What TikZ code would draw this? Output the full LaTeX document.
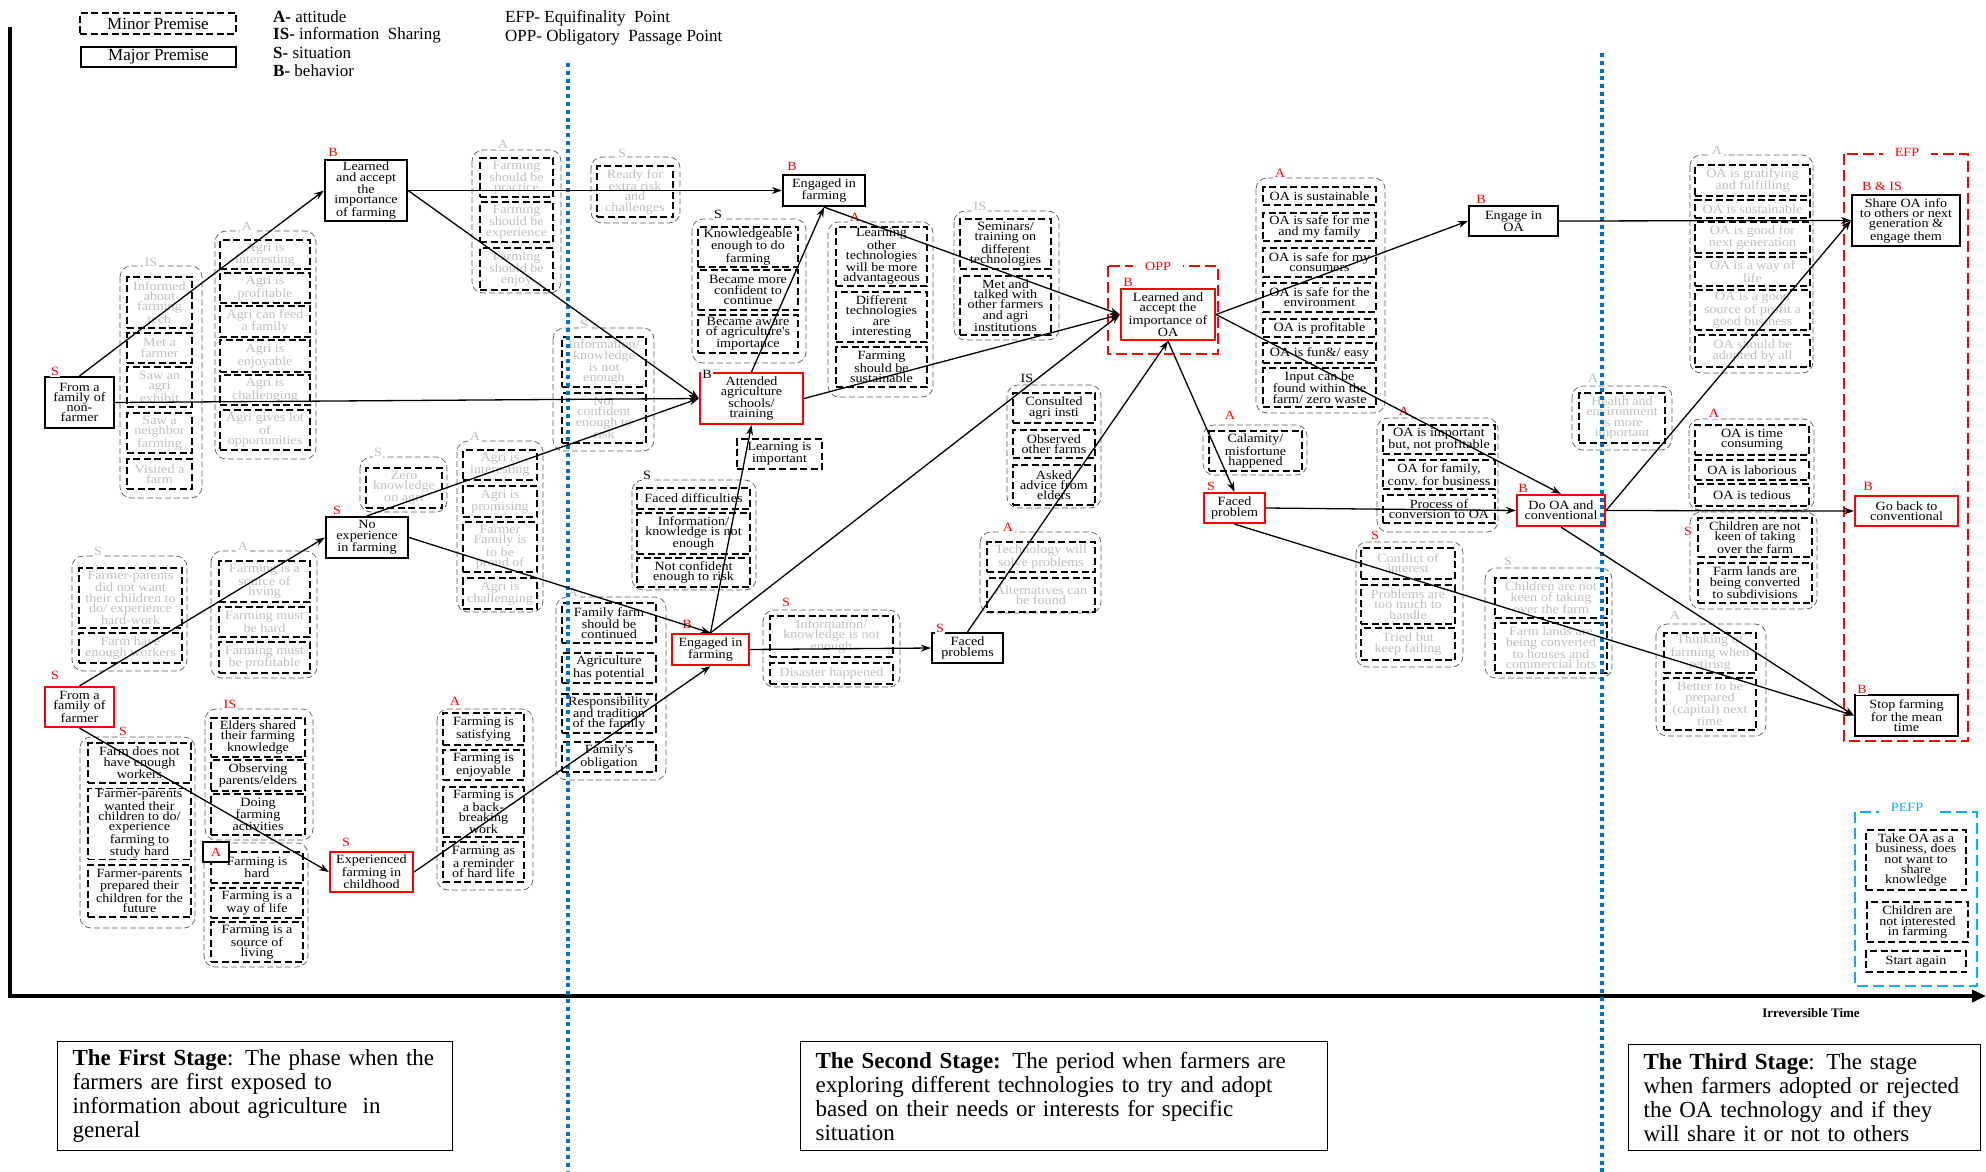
\documentclass[tikz,border=0pt]{standalone}
\usepackage{fontspec}
\setmainfont{Liberation Serif}
\newfontfamily\boxfont{Liberation Serif}[FakeStretch=1.12]
\usetikzlibrary{arrows.meta}
\definecolor{faint}{RGB}{190,190,190}
\definecolor{grpline}{RGB}{90,90,90}
\definecolor{stageblue}{RGB}{0,112,192}
\definecolor{pefpblue}{RGB}{0,176,240}

\begin{document}
\begin{tikzpicture}[x=1pt, y=-1pt,
    every node/.style={font=\boxfont\fontsize{12.6}{10.2}\selectfont, align=center, inner sep=1pt},
    minor/.style={draw, dash pattern=on 7pt off 3.5pt, line width=1.4pt},
    dim/.style={text=faint},
    major/.style={draw, line width=2.2pt},
    majred/.style={draw=red, line width=2.2pt},
    grp/.style={draw=grpline, dash pattern=on 6pt off 3pt, line width=0.7pt, rounded corners=11pt},
    lbl/.style={fill=white, inner sep=1.5pt, font=\boxfont\fontsize{12.6}{12}\selectfont},
    boxlbl/.style={lbl, inner xsep=12pt},
    sz/.style 2 args={minimum width=#1, minimum height=#2},
    arr/.style={-{Stealth[length=10pt, width=7pt]}, line width=1.3pt},
    stageline/.style={stageblue, line width=4pt, dash pattern=on 4pt off 3.8pt},
    oppbox/.style={red, line width=1.6pt, dash pattern=on 11pt off 5pt},
    pefpbox/.style={pefpblue, line width=1.6pt, dash pattern=on 11pt off 5pt},
    legend/.style={font=\fontsize{17}{18}\selectfont, inner sep=0pt},
    stage/.style={draw, line width=1.2pt, anchor=north west, align=left, inner xsep=15pt, inner ysep=0pt,
                  font=\fontsize{23}{24}\selectfont},
  ]
  \useasboundingbox (0,0) rectangle (1986,1172);

  \node[legend, minor, sz={156}{21}] (minleg) at (158,23.5) {Minor Premise};
  \node[legend, major, line width=1.5pt, sz={155}{20}] (majleg) at (158.5,57) {Major Premise};
  \node[legend, anchor=west] (keya) at (273,17) {\textbf{A-} attitude};
  \node[legend, anchor=west] (keyis) at (273,35) {\textbf{IS-} information\ \ Sharing};
  \node[legend, anchor=west] (keys) at (273,53) {\textbf{S-} situation};
  \node[legend, anchor=west] (keyb) at (273,71) {\textbf{B-} behavior};
  \node[legend, anchor=west] (keyefp) at (505,18) {EFP- Equifinality\ \ Point};
  \node[legend, anchor=west] (keyopp) at (505,37) {OPP- Obligatory\ \ Passage Point};

  \draw[line width=4pt] (10,27) -- (10,998);
  \draw[line width=4pt, -{Triangle[length=14pt, width=12pt]}] (8,996) -- (1986,996);
  \node[font=\bfseries\fontsize{13}{13}\selectfont] (irrtime) at (1811,1013) {Irreversible Time};

  \draw[grp] (120,266) rectangle (202,498);
  \node[lbl, text=faint] (lis1) at (151,262) {IS};
  \node[minor, dim, sz={65}{51}] (inform) at (159.5,302.5) {Informed\\about\\farming\\tech};
  \node[minor, dim, sz={65}{30}] (metfarmer) at (159.5,348) {Met a\\farmer};
  \node[minor, dim, sz={65}{40}] (exhibit) at (159.5,387) {Saw an\\agri\\exhibit};
  \node[minor, dim, sz={65}{40}] (neighbor) at (159.5,433) {Saw a\\neighbor\\farming};
  \node[minor, dim, sz={65}{30}] (visited) at (159.5,474) {Visited a\\farm};

  \draw[grp] (215,231) rectangle (316,459);
  \node[lbl, text=faint] (la2) at (247,226) {A};
  \node[minor, dim, sz={90}{29}] (agint) at (265,254.5) {Agri is\\interesting};
  \node[minor, dim, sz={90}{30}] (agprof) at (265,288) {Agri is\\profitable};
  \node[minor, dim, sz={90}{31}] (agfeed) at (265,321.5) {Agri can feed\\a family};
  \node[minor, dim, sz={90}{32}] (agenj) at (265,356) {Agri is\\enjoyable};
  \node[minor, dim, sz={90}{30}] (agchal) at (265,390) {Agri is\\challenging};
  \node[minor, dim, sz={90}{40}] (agopp) at (265,430) {Agri gives lot\\of\\opportunities};

  \draw[grp] (360,457) rectangle (447,512);
  \node[lbl, text=faint] (ls3) at (378,452) {S};
  \node[minor, dim, sz={76}{40}] (zeroknow) at (404,488) {Zero\\knowledge\\on agri};

  \draw[grp] (72,556) rectangle (187,671);
  \node[lbl, text=faint] (ls4) at (98,551) {S};
  \node[minor, dim, sz={103}{60}] (nowant) at (130.5,598) {Farmer-parents\\did not want\\their children to\\do/ experience\\hard-work};
  \node[minor, dim, sz={103}{30}] (enoughw) at (130.5,648) {Farm have\\enough workers};

  \draw[grp] (211,551) rectangle (317,678);
  \node[lbl, text=faint] (la5) at (243,546) {A};
  \node[minor, dim, sz={91}{41}] (srcliv) at (264.5,581.5) {Farming is a\\source of\\living};
  \node[minor, dim, sz={91}{30}] (musthard) at (264.5,622) {Farming must\\be hard};
  \node[minor, dim, sz={91}{31}] (mustprof) at (264.5,657.5) {Farming must\\be profitable};

  \draw[grp] (80,737) rectangle (195,928);
  \node[lbl, text=red] (ls6) at (123,731) {S};
  \node[minor, sz={103}{40}] (fewworkers) at (139.5,763) {Farm does not\\have enough\\workers};
  \node[minor, sz={103}{70}] (wanted) at (139.5,824) {Farmer-parents\\wanted their\\children to do/\\experience\\farming to\\study hard};
  \node[minor, sz={103}{52}] (prepared) at (139.5,891) {Farmer-parents\\prepared their\\children for the\\future};

  \draw[grp] (205,709) rectangle (313,840);
  \node[lbl, text=red] (lis7) at (230,704) {IS};
  \node[minor, sz={94}{39}] (elders) at (258,737.5) {Elders shared\\their farming\\knowledge};
  \node[minor, sz={94}{31}] (observe) at (258,775.5) {Observing\\parents/elders};
  \node[minor, sz={94}{41}] (doing) at (258,814.5) {Doing\\farming\\activities};

  \draw[grp] (204,843) rectangle (308,967);
  \node[minor, sz={92}{31}] (ishard) at (257,867.5) {Farming is\\hard};
  \node[minor, sz={92}{30}] (wayoflife) at (257,903) {Farming is a\\way of life};
  \node[minor, sz={92}{40}] (srcliv2) at (257,942) {Farming is a\\source of\\living};
  \node[lbl, draw, line width=1.2pt, text=red, sz={26}{20}] (la8) at (216,852) {A};

  \draw[grp] (437,709) rectangle (533,890);
  \node[lbl, text=red] (la9) at (455,701) {A};
  \node[minor, sz={81}{32}] (satisf) at (483.5,729) {Farming is\\satisfying};
  \node[minor, sz={81}{30}] (enjoy) at (483.5,765) {Farming is\\enjoyable};
  \node[minor, sz={81}{50}] (backbr) at (483.5,812) {Farming is\\a back-\\breaking\\work};
  \node[minor, sz={81}{40}] (remind) at (483.5,862) {Farming as\\a reminder\\of hard life};

  \draw[grp] (472,150) rectangle (561,293);
  \node[lbl, text=faint] (la10) at (503,144) {A};
  \node[minor, dim, sz={73}{39}] (practice) at (516.5,177.5) {Farming\\should be\\practice};
  \node[minor, dim, sz={73}{40}] (experience) at (516.5,222) {Farming\\should be\\experience};
  \node[minor, dim, sz={73}{42}] (enjoy2) at (516.5,269) {Farming\\should be\\enjoy};

  \draw[grp] (591,157) rectangle (680,223);
  \node[lbl, text=faint] (ls11) at (622,153) {S};
  \node[minor, dim, sz={76}{51}] (ready) at (635,191.5) {Ready for\\extra risk\\and\\challenges};

  \draw[grp] (553,328) rectangle (654,451);
  \node[lbl, text=faint] (ls12) at (584,324) {S};
  \node[minor, dim, sz={84}{50}] (infoless) at (604,362) {Information/\\knowledge\\is not\\enough};
  \node[minor, dim, sz={84}{50}] (notconf) at (604,418) {Not\\confident\\enough to\\risk};

  \draw[grp] (457,441) rectangle (543,612);
  \node[lbl, text=faint] (la13) at (475,436) {A};
  \node[minor, dim, sz={74}{30}] (agint2) at (500,465) {Agri is\\interesting};
  \node[minor, dim, sz={74}{31}] (agprom) at (500,501.5) {Agri is\\promising};
  \node[minor, dim, sz={74}{50}] (proud) at (500,547) {Farmer\\Family is\\to be\\proud of};
  \node[minor, dim, sz={74}{31}] (agchal2) at (500,593.5) {Agri is\\challenging};

  \node[minor, sz={85}{30}] (learnimp) at (779.5,454) {Learning is\\important};

  \draw[grp] (632,480) rectangle (756,590);
  \node[lbl] (ls15) at (647,475) {S};
  \node[minor, sz={113}{21}] (faceddiff) at (693.5,498.5) {Faced difficulties};
  \node[minor, sz={113}{41}] (infoless2) at (693.5,533.5) {Information/\\knowledge is not\\enough};
  \node[minor, sz={113}{29}] (notconf2) at (693.5,572.5) {Not confident\\enough to risk};

  \draw[grp] (556,597) rectangle (666,780);
  \node[lbl, text=faint] (la16) at (573,592) {A};
  \node[minor, sz={94}{40}] (continued) at (609,623) {Family farm\\should be\\continued};
  \node[minor, sz={94}{30}] (potential) at (609,668) {Agriculture\\has potential};
  \node[minor, sz={94}{39}] (tradition) at (609,713.5) {Responsibility\\and tradition\\of the family};
  \node[minor, sz={94}{30}] (obligation) at (609,757) {Family's\\obligation};

  \draw[grp] (763,610) rectangle (900,687);
  \node[lbl, text=red] (ls17) at (786,602) {S};
  \node[minor, dim, sz={123}{41}] (infoless3) at (831.5,636.5) {Information/\\knowledge is not\\enough};
  \node[minor, dim, sz={123}{21}] (disaster) at (831.5,673.5) {Disaster happened};

  \draw[grp] (692,219) rectangle (806,363);
  \node[lbl] (ls18) at (718,214) {S};
  \node[minor, sz={100}{40}] (knowl) at (748,247) {Knowledgeable\\enough to do\\farming};
  \node[minor, sz={100}{40}] (confid) at (748,290) {Became more\\confident to\\continue};
  \node[minor, sz={100}{38}] (aware) at (748,334) {Became aware\\of agriculture's\\importance};

  \draw[grp] (828,222) rectangle (933,397);
  \node[lbl, text=red] (la19) at (855,217) {A};
  \node[minor, sz={91}{59}] (advant) at (881.5,256.5) {Learning\\other\\technologies\\will be more\\advantageous};
  \node[minor, sz={91}{50}] (different) at (881.5,317) {Different\\technologies\\are\\interesting};
  \node[minor, sz={91}{40}] (sustain) at (881.5,367) {Farming\\should be\\sustainable};

  \draw[grp] (954,211) rectangle (1059,340);
  \node[lbl, text=faint] (lis20) at (980,206) {IS};
  \node[minor, sz={91}{50}] (seminar) at (1005.5,244) {Seminars/\\training on\\different\\technologies};
  \node[minor, sz={91}{59}] (talked) at (1005.5,305.5) {Met and\\talked with\\other farmers\\and agri\\institutions};

  \draw[grp] (1007,385) rectangle (1101,508);
  \node[lbl] (lis21) at (1027,378) {IS};
  \node[minor, sz={82}{30}] (consult) at (1054,408) {Consulted\\agri insti};
  \node[minor, sz={82}{28}] (observed) at (1054,444) {Observed\\other farms};
  \node[minor, sz={82}{40}] (advice) at (1054,485) {Asked\\advice from\\elders};

  \draw[grp] (980,532) rectangle (1101,613);
  \node[lbl, text=red] (la22) at (1008,527) {A};
  \node[minor, dim, sz={108}{30}] (techsolve) at (1041,557) {Technology will\\solve problems};
  \node[minor, dim, sz={108}{34}] (altern) at (1041,595) {Alternatives can\\be found};

  \draw[oppbox] (1108,266) rectangle (1218,354);
  \node[boxlbl, text=red] (opplbl) at (1158,266) {OPP};

  \draw[grp] (1256,178) rectangle (1385,413);
  \node[lbl, text=red] (la23) at (1280,173) {A};
  \node[minor, sz={113}{18}] (oasust) at (1319.5,196) {OA is sustainable};
  \node[minor, sz={113}{28}] (oasafe) at (1319.5,227) {OA is safe for me\\and my family};
  \node[minor, sz={113}{29}] (oaconsum) at (1319.5,262.5) {OA is safe for my\\consumers};
  \node[minor, sz={113}{29}] (oaenv) at (1319.5,297.5) {OA is safe for the\\environment};
  \node[minor, sz={113}{18}] (oaprof) at (1319.5,328) {OA is profitable};
  \node[minor, sz={113}{20}] (oafun) at (1319.5,353) {OA is fun\&/ easy};
  \node[minor, sz={113}{39}] (oainput) at (1319.5,387.5) {Input can be\\found within the\\farm/ zero waste};

  \draw[grp] (1203,425) rectangle (1307,475);
  \node[lbl, text=red] (la24) at (1230,415) {A};
  \node[minor, sz={93}{40}] (calamity) at (1255.5,451) {Calamity/\\misfortune\\happened};

  \draw[grp] (1377,418) rectangle (1498,532);
  \node[lbl, text=red] (la25) at (1404,411) {A};
  \node[minor, sz={112}{29}] (notprof) at (1439,439.5) {OA is important\\but, not profitable};
  \node[minor, sz={112}{29}] (forfam) at (1439,474.5) {OA for family,\\conv. for business};
  \node[minor, sz={112}{28}] (process) at (1439,509) {Process of\\conversion to OA};

  \draw[grp] (1356,542) rectangle (1463,667);
  \node[lbl, text=red] (ls26) at (1375,535) {S};
  \node[minor, dim, sz={94}{31}] (conflict) at (1408,563.5) {Conflict of\\interest};
  \node[minor, dim, sz={94}{39}] (toomuch) at (1408,604.5) {Problems are\\too much to\\handle};
  \node[minor, dim, sz={94}{32}] (failing) at (1408,644) {Tried but\\keep failing};

  \draw[grp] (1485,568) rectangle (1612,678);
  \node[lbl, text=faint] (ls27) at (1508,561) {S};
  \node[minor, dim, sz={112}{40}] (notkeen) at (1551,598) {Children are not\\keen of taking\\over the farm};
  \node[minor, dim, sz={112}{50}] (houses) at (1551,648) {Farm lands are\\being converted\\to houses and\\commercial lots};

  \draw[grp] (1572,386) rectangle (1672,450);
  \node[lbl, text=faint] (la28) at (1593,378) {A};
  \node[minor, dim, sz={86}{50}] (health) at (1622,418) {Health and\\environment\\is more\\important};

  \draw[grp] (1690,155) rectangle (1813,373);
  \node[lbl, text=faint] (la29) at (1717,150) {A};
  \node[minor, dim, sz={115}{31}] (gratify) at (1752.5,180.5) {OA is gratifying\\and fulfilling};
  \node[minor, dim, sz={115}{18}] (oasust2) at (1752.5,209) {OA is sustainable};
  \node[minor, dim, sz={115}{31}] (nextgen) at (1752.5,237.5) {OA is good for\\next generation};
  \node[minor, dim, sz={115}{29}] (wayoa) at (1752.5,271.5) {OA is a way of\\life};
  \node[minor, dim, sz={115}{40}] (goodsrc) at (1752.5,310) {OA is a good\\source of profit a\\good business};
  \node[minor, dim, sz={115}{32}] (adopted) at (1752.5,351) {OA should be\\adopted by all};

  \draw[grp] (1689,419) rectangle (1814,510);
  \node[lbl, text=red] (la30) at (1714,413) {A};
  \node[minor, sz={114}{30}] (timecons) at (1752,440) {OA is time\\consuming};
  \node[minor, sz={114}{20}] (labor) at (1752,470) {OA is laborious};
  \node[minor, sz={114}{22}] (tedious) at (1752,495) {OA is tedious};

  \draw[grp] (1690,512) rectangle (1817,609);
  \node[lbl, text=red] (ls31) at (1688,531) {S};
  \node[minor, sz={114}{39}] (notkeen2) at (1755,537.5) {Children are not\\keen of taking\\over the farm};
  \node[minor, sz={114}{40}] (subdiv) at (1755,583) {Farm lands are\\being converted\\to subdivisions};

  \draw[grp] (1656,624) rectangle (1766,736);
  \node[lbl, text=faint] (la32) at (1675,615) {A};
  \node[minor, dim, sz={92}{40}] (retiring) at (1710,653) {Thinking of\\farming when\\retiring};
  \node[minor, dim, sz={92}{52}] (capital) at (1710,704) {Better to be\\prepared\\(capital) next\\time};

  \draw[oppbox] (1844,154) rectangle (1968,741);
  \node[boxlbl, text=red] (efplbl) at (1907,152) {EFP};

  \draw[pefpbox] (1855,812) rectangle (1977,986);
  \node[boxlbl, text=pefpblue] (pefplbl) at (1907,807) {PEFP};
  \node[minor, sz={100}{60}] (business) at (1916,860) {Take OA as a\\business, does\\not want to\\share\\knowledge};
  \node[minor, sz={101}{40}] (notinter) at (1917.5,922) {Children are\\not interested\\in farming};
  \node[minor, sz={100}{21}] (startag) at (1916,961.5) {Start again};

  \node[major, sz={69}{51}] (nonfarm) at (79.5,402.5) {From a\\family of\\non-\\farmer};
  \node[lbl, text=red] (lnonfarm) at (55,371) {S};
  \node[major, sz={82}{61}] (lrnfarm) at (366,190.5) {Learned\\and accept\\the\\importance\\of farming};
  \node[lbl, text=red] (llrnfarm) at (333,152) {B};
  \node[major, sz={82}{41}] (noexp) at (367,537.5) {No\\experience\\in farming};
  \node[lbl, text=red] (lnoexp) at (337,510) {S};
  \node[majred, sz={69}{40}] (farmfam) at (79.5,707) {From a\\family of\\farmer};
  \node[lbl, text=red] (lfarmfam) at (55,675) {S};
  \node[majred, sz={83}{40}] (childhd) at (371.5,872) {Experienced\\farming in\\childhood};
  \node[lbl, text=red] (lchildhd) at (346,842) {S};
  \node[majred, sz={103}{51}] (attend) at (751.5,398.5) {Attended\\agriculture\\schools/\\training};
  \node[lbl] (lattend) at (707,374) {B};
  \node[majred, sz={77}{31}] (englow) at (710.5,649.5) {Engaged in\\farming};
  \node[lbl, text=red] (lenglow) at (687,624) {B};
  \node[major, sz={71}{30}] (facedA) at (967.5,648) {Faced\\problems};
  \node[lbl, text=red] (lfacedA) at (940,628) {S};
  \node[major, sz={82}{31}] (engtop) at (824,190.5) {Engaged in\\farming};
  \node[lbl, text=red] (lengtop) at (792,166) {B};
  \node[majred, sz={94}{51}] (oaimp) at (1168,314.5) {Learned and\\accept the\\importance of\\OA};
  \node[lbl, text=red] (loaimp) at (1128,282) {B};
  \node[major, sz={89}{30}] (engoa) at (1513.5,221) {Engage in\\OA};
  \node[lbl, text=red] (lengoa) at (1481,199) {B};
  \node[majred, sz={61}{30}] (facedB) at (1234.5,508) {Faced\\problem};
  \node[lbl, text=red] (lfacedB) at (1211,486) {S};
  \node[majred, sz={88}{31}] (dooa) at (1561,510.5) {Do OA and\\conventional};
  \node[lbl, text=red] (ldooa) at (1523,488) {B};
  \node[major, sz={108}{51}] (shareoa) at (1906,220.5) {Share OA info\\to others or next\\generation \&\\engage them};
  \node[lbl, text=red] (lshareoa) at (1882,186) {B \& IS};
  \node[majred, sz={103}{30}] (goback) at (1906.5,511) {Go back to\\conventional};
  \node[lbl, text=red] (lgoback) at (1868,486) {B};
  \node[major, sz={103}{41}] (stopfarm) at (1906.5,715.5) {Stop farming\\for the mean\\time};
  \node[lbl, text=red] (lstopfarm) at (1862,689) {B};

  \draw[stageline] (568,63) -- (568,1172);
  \draw[stageline] (1602,53) -- (1602,1172);

  \draw[arr] (nonfarm.north) -- (lrnfarm.west);
  \draw[arr] (nonfarm.east) -- (attend.west);
  \draw[arr] (lrnfarm.east) -- (engtop.west);
  \draw[arr] (lrnfarm.east) -- (attend.west);
  \draw[arr] (noexp.north) -- (attend.west);
  \draw[arr] (noexp.east) -- (englow.north);
  \draw[arr] (farmfam.north) -- (noexp.west);
  \draw[arr] (farmfam.south) -- (childhd.west);
  \draw[arr] (childhd.east) -- (englow.south);
  \draw[arr] (englow.north) -- (attend.south);
  \draw[arr] (attend.north) -- (engtop.south);
  \draw[arr] (englow.north) -- (oaimp.west);
  \draw[arr] (englow.east) -- (facedA.west);
  \draw[arr] (facedA.north) -- (oaimp.south);
  \draw[arr] (engtop.south) -- (oaimp.west);
  \draw[arr] (attend.east) -- (oaimp.west);
  \draw[arr] (oaimp.east) -- (engoa.west);
  \draw[arr] (oaimp.east) -- (dooa.north);
  \draw[arr] (oaimp.south) -- (facedB.north);
  \draw[arr] (facedB.east) -- (dooa.west);
  \draw[arr] (facedB.south) -- (stopfarm.west);
  \draw[arr] (engoa.east) -- (shareoa.west);
  \draw[arr] (dooa.east) -- (shareoa.west);
  \draw[arr] (dooa.east) -- (goback.west);
  \draw[arr] (dooa.south) -- (stopfarm.west);

  \node[stage, minimum height=109, text width=365] (stage1) at (57,1041)
    {\textbf{The First Stage}: The phase when the\\farmers are first exposed to\\information about agriculture\ \ in\\general};
  \node[stage, minimum height=109, text width=497] (stage2) at (800,1041)
    {\textbf{The Second Stage:} The period when farmers are\\exploring different technologies to try and adopt\\based on their needs or interests for specific\\situation};
  \node[stage, minimum height=106, text width=322] (stage3) at (1628,1044)
    {\textbf{The Third Stage}: The stage\\when farmers adopted or rejected\\the OA technology and if they\\will share it or not to others};
\end{tikzpicture}
\end{document}
